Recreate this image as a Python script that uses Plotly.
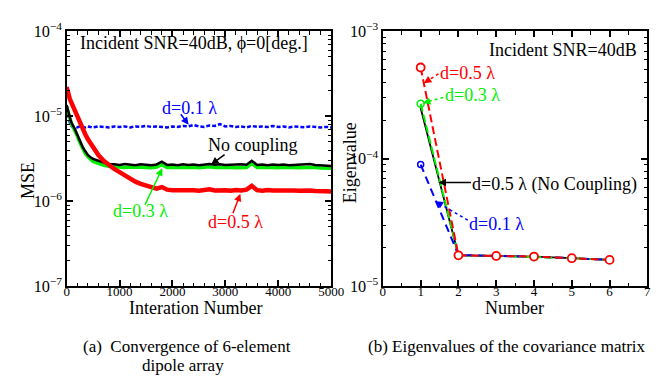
import plotly.graph_objects as go

# ---------------- data ----------------
iteration = [0, 20, 40, 60, 80, 100, 130, 160, 200, 250, 300, 350, 400, 450, 500,
             600, 700, 800, 900, 1000, 1100, 1200, 1300, 1400, 1500, 1600, 1700, 1800, 1900, 2000,
             2100, 2200, 2300, 2400, 2500, 2600, 2700, 2800, 2900, 3000, 3100, 3200, 3300, 3400, 3500,
             3600, 3700, 3800, 3900, 4000, 4100, 4200, 4300, 4400, 4500, 4600, 4700, 4800, 4900, 5000]

mse_d01 = [1.25e-5, 1.05e-5, 9.2e-6, 8.4e-6, 7.9e-6, 7.6e-6, 7.5e-6, 7.6e-6, 7.4e-6, 7.6e-6, 7.5e-6, 7.4e-6, 7.6e-6, 7.5e-6, 7.4e-6,
           7.6e-6, 7.5e-6, 7.4e-6, 7.6e-6, 7.5e-6, 7.6e-6, 7.4e-6, 7.6e-6, 7.5e-6, 7.7e-6, 7.5e-6, 7.6e-6, 7.5e-6, 7.4e-6, 7.6e-6,
           7.5e-6, 7.7e-6, 7.6e-6, 7.9e-6, 7.6e-6, 7.5e-6, 7.8e-6, 7.7e-6, 8.1e-6, 7.6e-6, 7.7e-6, 7.5e-6, 7.6e-6, 7.4e-6, 7.7e-6,
           7.5e-6, 7.6e-6, 7.5e-6, 7.7e-6, 7.5e-6, 7.6e-6, 7.4e-6, 7.6e-6, 7.5e-6, 7.4e-6, 7.6e-6, 7.5e-6, 7.4e-6, 7.5e-6, 7.4e-6]

mse_nocoup = [1.35e-5, 1.2e-5, 1.05e-5, 9.5e-6, 8.8e-6, 8.2e-6, 7.6e-6, 7.0e-6, 6.1e-6, 5.1e-6, 4.4e-6, 3.9e-6, 3.5e-6, 3.3e-6, 3.15e-6,
              3.0e-6, 2.85e-6, 2.75e-6, 2.72e-6, 2.68e-6, 2.74e-6, 2.7e-6, 2.66e-6, 2.72e-6, 2.69e-6, 2.66e-6, 2.71e-6, 2.92e-6, 2.68e-6, 2.7e-6,
              2.66e-6, 2.72e-6, 2.68e-6, 2.7e-6, 2.66e-6, 2.71e-6, 2.74e-6, 2.69e-6, 2.72e-6, 2.67e-6, 2.7e-6, 2.68e-6, 2.72e-6, 2.69e-6, 3.0e-6,
              2.68e-6, 2.7e-6, 2.66e-6, 2.71e-6, 2.68e-6, 2.7e-6, 2.66e-6, 2.69e-6, 2.67e-6, 2.7e-6, 2.74e-6, 2.68e-6, 2.66e-6, 2.63e-6, 2.6e-6]

mse_d03 = [1.3e-5, 1.15e-5, 1.02e-5, 9.3e-6, 8.6e-6, 8.0e-6, 7.4e-6, 6.8e-6, 5.9e-6, 4.9e-6, 4.2e-6, 3.7e-6, 3.35e-6, 3.1e-6, 2.95e-6,
           2.8e-6, 2.65e-6, 2.58e-6, 2.55e-6, 2.52e-6, 2.5e-6, 2.53e-6, 2.49e-6, 2.51e-6, 2.5e-6, 2.48e-6, 2.52e-6, 2.7e-6, 2.5e-6, 2.51e-6,
           2.49e-6, 2.52e-6, 2.5e-6, 2.51e-6, 2.48e-6, 2.52e-6, 2.54e-6, 2.5e-6, 2.51e-6, 2.49e-6, 2.5e-6, 2.48e-6, 2.51e-6, 2.5e-6, 2.8e-6,
           2.5e-6, 2.51e-6, 2.49e-6, 2.5e-6, 2.48e-6, 2.51e-6, 2.49e-6, 2.5e-6, 2.48e-6, 2.5e-6, 2.52e-6, 2.49e-6, 2.47e-6, 2.46e-6, 2.45e-6]

mse_d05 = [2.2e-5, 1.9e-5, 1.7e-5, 1.6e-5, 1.5e-5, 1.4e-5, 1.25e-5, 1.12e-5, 1.0e-5, 8.5e-6, 7.2e-6, 6.2e-6, 5.4e-6, 4.8e-6, 4.3e-6,
           3.5e-6, 3.0e-6, 2.65e-6, 2.4e-6, 2.2e-6, 2.0e-6, 1.85e-6, 1.7e-6, 1.6e-6, 1.53e-6, 1.46e-6, 1.41e-6, 1.47e-6, 1.37e-6, 1.35e-6,
           1.36e-6, 1.34e-6, 1.37e-6, 1.35e-6, 1.33e-6, 1.36e-6, 1.38e-6, 1.34e-6, 1.36e-6, 1.35e-6, 1.33e-6, 1.36e-6, 1.34e-6, 1.37e-6, 1.52e-6,
           1.35e-6, 1.33e-6, 1.36e-6, 1.34e-6, 1.35e-6, 1.33e-6, 1.36e-6, 1.34e-6, 1.33e-6, 1.35e-6, 1.34e-6, 1.32e-6, 1.33e-6, 1.31e-6, 1.3e-6]

number = [1, 2, 3, 4, 5, 6]
eig_d05_nocoup = [2.5e-4, 1.75e-5, 1.73e-5, 1.71e-5, 1.66e-5, 1.61e-5]
eig_d03 = [2.7e-4, 1.75e-5, 1.73e-5, 1.70e-5, 1.66e-5, 1.61e-5]
eig_d01 = [9.0e-5, 1.76e-5, 1.73e-5, 1.71e-5, 1.66e-5, 1.61e-5]
eig_d05 = [5.2e-4, 1.75e-5, 1.73e-5, 1.71e-5, 1.66e-5, 1.61e-5]

# ---------------- figure ----------------
W, H = 667, 378
FONT = "Liberation Serif"
RED, GREEN, BLUE, BLACK = "#ff0000", "#00ee00", "#0000ff", "#000000"

fig = go.Figure()

# left panel
fig.add_trace(go.Scatter(x=iteration, y=mse_d01, mode="lines", xaxis="x", yaxis="y",
                         line=dict(color=BLUE, width=2.5, dash="4px,2px")))
fig.add_trace(go.Scatter(x=iteration, y=mse_d03, mode="lines", xaxis="x", yaxis="y",
                         line=dict(color=GREEN, width=3.5)))
fig.add_trace(go.Scatter(x=iteration, y=mse_nocoup, mode="lines", xaxis="x", yaxis="y",
                         line=dict(color=BLACK, width=2.5)))
fig.add_trace(go.Scatter(x=iteration, y=mse_d05, mode="lines", xaxis="x", yaxis="y",
                         line=dict(color=RED, width=4.5)))

# right panel
fig.add_trace(go.Scatter(x=number, y=eig_d05_nocoup, mode="lines", xaxis="x2", yaxis="y2",
                         line=dict(color=BLACK, width=1.8)))
fig.add_trace(go.Scatter(x=number, y=eig_d03, mode="lines+markers", xaxis="x2", yaxis="y2",
                         line=dict(color=GREEN, width=2, dash="8px,3px"),
                         marker=dict(symbol="circle-open", size=7, color=GREEN, line=dict(width=1.5))))
fig.add_trace(go.Scatter(x=number, y=eig_d01, mode="lines+markers", xaxis="x2", yaxis="y2",
                         line=dict(color=BLUE, width=2, dash="8px,5px"),
                         marker=dict(symbol="circle-open", size=6, color=BLUE, line=dict(width=1.5))))
fig.add_trace(go.Scatter(x=number, y=eig_d05, mode="lines+markers", xaxis="x2", yaxis="y2",
                         line=dict(color=RED, width=2, dash="8px,4px"),
                         marker=dict(symbol="circle", size=8, color="white", line=dict(width=1.8, color=RED))))

tickfont = dict(family=FONT, size=13, color="black")
common = dict(showline=True, linewidth=2, linecolor="black", mirror="allticks",
              ticks="inside", ticklen=6, tickwidth=1.5, tickcolor="black",
              showgrid=False, zeroline=False, tickfont=tickfont)
minor_common = dict(ticks="inside", ticklen=3.5, tickwidth=1.2, tickcolor="black")

ydom = [1 - 283 / H, 1 - 13 / H]
fig.update_layout(
    width=W, height=H, margin=dict(l=0, r=0, t=0, b=0),
    paper_bgcolor="white", plot_bgcolor="white", showlegend=False,
    font=dict(family=FONT, size=18, color="black"),
    xaxis=dict(domain=[57 / W, 328 / W], range=[0, 5000], dtick=1000, anchor="y",
               ticklabelstandoff=-8,
               minor=dict(dtick=200, **minor_common), **common),
    yaxis=dict(domain=ydom, type="log", range=[-7, -4], dtick=1, exponentformat="power",
               anchor="x", minor=dict(dtick="D1", **minor_common), **common),
    xaxis2=dict(domain=[381 / W, 652 / W], range=[0, 7], dtick=1, anchor="y2",
                ticklabelstandoff=-8,
                minor=dict(dtick=0.5, **minor_common), **common),
    yaxis2=dict(domain=ydom, type="log", range=[-5, -3], dtick=1, exponentformat="power",
                anchor="x2", minor=dict(dtick="D1", **minor_common), **common),
)


def px(x, y):
    return x / W, 1 - y / H


def label(text, x, y, color, size=18, angle=0):
    xx, yy = px(x, y)
    fig.add_annotation(x=xx, y=yy, xref="paper", yref="paper", text=text, showarrow=False,
                       textangle=angle,
                       font=dict(family=FONT, size=size, color=color), xanchor="center", yanchor="middle")


def arrow(tail, tip, color, dotted=False):
    tx, ty = tip
    if dotted:
        x0, y0 = px(*tail)
        x1, y1 = px(*tip)
        fig.add_shape(type="line", xref="paper", yref="paper", x0=x0, y0=y0, x1=x1, y1=y1,
                      line=dict(color=color, width=1.5, dash="dot"))
        dx, dy = tail[0] - tx, tail[1] - ty
        n = (dx * dx + dy * dy) ** 0.5
        ax, ay = dx / n * 7, dy / n * 7
    else:
        ax, ay = tail[0] - tx, tail[1] - ty
    xx, yy = px(tx, ty)
    fig.add_annotation(x=xx, y=yy, xref="paper", yref="paper", ax=ax, ay=ay,
                       axref="pixel", ayref="pixel", text="", showarrow=True,
                       arrowhead=2, arrowsize=1, arrowwidth=1.5, arrowcolor=color)


# axis titles
label("Interation Number", 189, 306, BLACK)
label("MSE", 18, 171, BLACK, angle=-90)
label("Number", 516, 306, BLACK)
label("Eigenvalue", 347, 152, BLACK, angle=-90)

# left annotations
label("Incident SNR=40dB, ϕ=0[deg.]", 188, 25, BLACK)
label("d=0.1 λ", 183, 94, BLUE)
arrow((173, 100), (182, 112), BLUE)
label("No coupling", 248, 133, BLACK)
arrow((220, 143), (205, 154), BLACK)
label("d=0.3 λ", 133, 203, GREEN)
arrow((137, 196), (155, 158), GREEN)
label("d=0.5 λ", 230, 215, RED)
arrow((227, 206), (235, 185), RED)

# right annotations
label("Incident SNR=40dB", 566, 33, BLACK)
label("d=0.5 λ", 468, 57, RED)
arrow((438, 58), (423, 68), RED, dotted=True)
label("d=0.3 λ", 473, 80, GREEN)
arrow((443, 83), (422, 89), GREEN, dotted=True)
label("d=0.5 λ (No Coupling)", 557, 175, BLACK)
arrow((472, 173), (438, 173), BLACK)
label("d=0.1 λ", 497, 217, BLUE)
arrow((468, 213), (435, 193), BLUE, dotted=True)

# captions
label("(a)&nbsp;&nbsp;Convergence of 6-element", 180, 347, BLACK, size=17)
label("dipole array", 176, 367, BLACK, size=17)
label("(b) Eigenvalues of the covariance matrix", 508, 347, BLACK, size=17)

fig.write_html("out.html")
